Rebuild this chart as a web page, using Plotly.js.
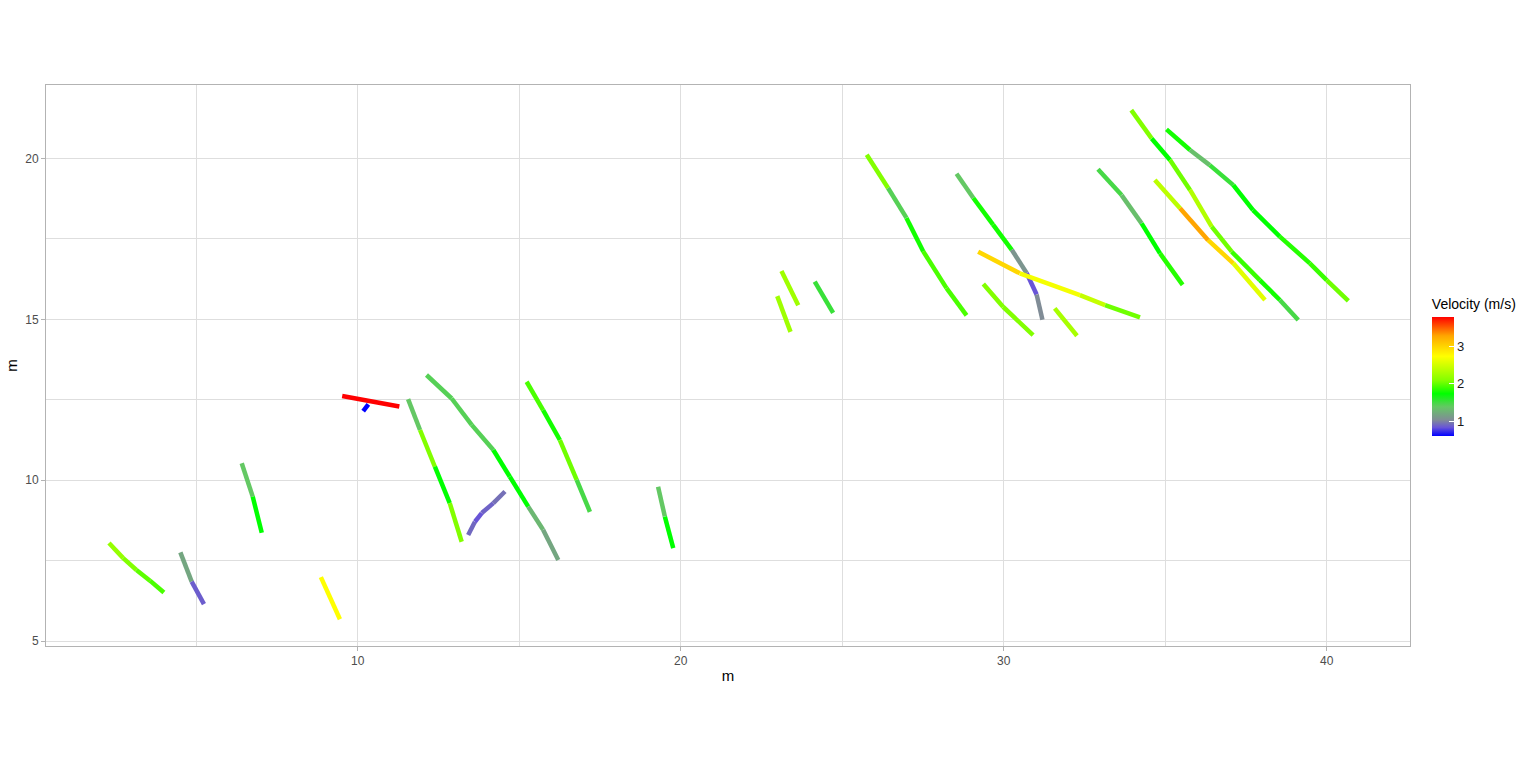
<!DOCTYPE html>
<html><head><meta charset="utf-8">
<script src="https://cdn.plot.ly/plotly-3.0.1.min.js"></script>
<style>body{margin:0;background:#fff}</style></head>
<body><div id="chart" style="width:1536px;height:768px"></div>
<script>
// Track id, position (m) and velocity (m/s) of each recorded point.
// A segment is coloured by the velocity at its starting point.
const trackId = [
 1,1,1,1,1, 2,2,2, 3,3,3, 4,4, 5,5, 6,6,
 7,7,7,7,7, 8,8,8,8,8,8,8,8, 9,9,9,9,9, 10,10,10,10,10, 11,11,11,
 12,12, 13,13, 14,14, 15,15,15,15,15,15, 16,16,16,16,16,16,16,
 17,17,17,17,17, 18,18,18, 19,19,
 20,20,20,20,20,20,20,20,20, 21,21,21,21,21,21,21,21,21, 22,22,22,22,22, 23,23,23,23,23
];
const posX = [
 2.30,2.74,3.15,3.57,4.00, 4.51,4.86,5.24, 6.41,6.75,7.03, 8.86,9.45, 9.52,11.29, 10.33,10.17,
 11.56,11.93,12.39,12.85,13.22, 12.13,12.91,13.53,14.20,14.71,15.28,15.74,16.21,
 13.42,13.63,13.84,14.20,14.56, 15.23,15.74,16.26,16.78,17.19, 19.30,19.51,19.77,
 23.12,23.64, 22.99,23.40, 24.15,24.72, 25.76,26.42,26.99,27.51,28.23,28.85,
 28.54,29.06,29.67,30.25,30.71,31.02,31.20,
 29.21,30.50,32.36,33.14,34.22, 29.37,29.98,30.91, 31.58,32.27,
 33.95,34.58,35.15,35.77,36.44,37.06,37.93,38.55,39.12,
 35.04,35.77,36.38,37.11,37.72,38.55,39.48,40.00,40.67,
 34.68,35.46,36.33,37.11,38.09, 32.92,33.65,34.27,34.84,35.54
];
const posY = [
 8.05,7.58,7.21,6.88,6.51, 7.76,6.85,6.15, 10.53,9.49,8.37, 6.99,5.68, 12.62,12.29, 12.36,12.15,
 12.52,11.56,10.42,9.29,8.09, 13.27,12.54,11.72,10.94,10.11,9.18,8.46,7.52,
 8.30,8.71,8.98,9.29,9.65, 13.06,12.18,11.25,10.01,9.02, 9.80,8.87,7.89,
 16.50,15.44, 15.72,14.61, 16.17,15.20, 20.11,19.08,18.15,17.11,15.97,15.12,
 19.52,18.77,17.94,17.16,16.44,15.77,14.99,
 17.10,16.43,15.75,15.44,15.06, 16.10,15.39,14.51, 15.34,14.49,
 21.50,20.62,19.95,19.02,17.88,17.10,16.22,15.60,14.98,
 20.90,20.26,19.79,19.17,18.39,17.57,16.74,16.22,15.57,
 19.33,18.45,17.46,16.74,15.60, 19.66,18.86,17.98,17.05,16.07
];
const velocity = [
 2.2,2.1,2.0,1.95,1.95, 1.2,0.88,0.88, 1.4,1.75,1.75, 2.75,2.75, 3.8,3.8, 0.62,0.62,
 1.4,2.1,1.75,2.1,2.1, 1.45,1.45,1.45,1.75,1.75,1.3,1.2,1.2,
 0.92,0.85,0.9,0.95,0.95, 1.95,1.8,2.05,1.5,1.5, 1.4,1.75,1.75,
 2.25,2.25, 2.25,2.25, 1.55,1.55, 2.1,1.45,1.8,1.95,1.95,1.95,
 1.4,1.8,1.8,1.1,0.85,1.05,1.05,
 3.0,2.7,2.45,2.05,2.05, 2.1,2.1,2.1, 2.3,2.3,
 2.1,1.75,2.05,2.35,2.05,1.9,1.8,1.5,1.5,
 1.8,1.35,1.55,1.75,1.75,1.85,1.9,2.05,2.05,
 2.4,3.3,3.0,2.6,2.6, 1.5,1.35,1.75,1.85,1.85
];

// Colour scale (velocity -> colour)
const stopV = [0.62, 0.85, 1.05, 1.4, 1.75, 2.1, 2.75, 3.0, 3.3, 3.8];
const stopRGB = [[0,0,255],[105,85,215],[128,140,150],[100,200,100],[0,255,0],
                 [130,255,0],[255,255,0],[255,215,0],[255,165,0],[255,0,0]];

const colorscale = stopV.map((v, k) => [(v - stopV[0]) / (stopV[stopV.length-1] - stopV[0]),
  'rgb(' + stopRGB[k].join(',') + ')']);

function colorFor(v) {
  if (v <= stopV[0]) return 'rgb(' + stopRGB[0].join(',') + ')';
  for (let k = 1; k < stopV.length; k++) {
    if (v <= stopV[k]) {
      const t = (v - stopV[k-1]) / (stopV[k] - stopV[k-1]);
      const c = stopRGB[k-1].map((a, j) => Math.round(a + t * (stopRGB[k][j] - a)));
      return 'rgb(' + c.join(',') + ')';
    }
  }
  return 'rgb(' + stopRGB[stopRGB.length-1].join(',') + ')';
}

const traces = [];
for (let i = 0; i < posX.length - 1; i++) {
  if (trackId[i] !== trackId[i+1]) continue;
  traces.push({
    type: 'scatter', mode: 'lines',
    x: [posX[i], posX[i+1]], y: [posY[i], posY[i+1]],
    line: {color: colorFor(velocity[i]), width: 4.5},
    hoverinfo: 'skip', showlegend: false
  });
}
// colour bar carrier
traces.push({
  type: 'scatter', mode: 'markers', x: posX, y: posY,
  hoverinfo: 'skip', showlegend: false,
  marker: {
    color: velocity, colorscale: colorscale, cmin: stopV[0], cmax: stopV[stopV.length-1],
    opacity: 0, size: 1, showscale: true,
    colorbar: {
      title: {text: 'Velocity (m/s)', side: 'top', font: {size: 14, color: '#000'}},
      x: 1.016, xanchor: 'left', y: 0.5, yanchor: 'middle',
      len: 140, lenmode: 'pixels', thickness: 22, thicknessmode: 'pixels',
      tickvals: [1, 2, 3], ticks: 'inside', ticklen: 5, tickcolor: '#fff', tickwidth: 1,
      outlinewidth: 0, tickfont: {size: 13, color: '#1a1a1a'}, xpad: 0, ypad: 0
    }
  }
});

const gridc = '#dedede';
const layout = {
  width: 1536, height: 768,
  margin: {l: 46, r: 126, t: 85, b: 122},
  paper_bgcolor: '#fff', plot_bgcolor: '#fff',
  font: {family: 'Liberation Sans, Arial, sans-serif'},
  xaxis: {
    range: [0.35, 42.58], tickvals: [10, 20, 30, 40], ticktext: ['10','20','30','40'],
    showgrid: true, gridcolor: gridc, gridwidth: 1,
    minor: {tickvals: [5, 15, 25, 35], showgrid: true, gridcolor: gridc, gridwidth: 1, ticks: ''},
    zeroline: false, showline: true, mirror: true, linecolor: '#b3b3b3', linewidth: 1,
    ticks: 'outside', ticklen: 4, tickcolor: '#b3b3b3',
    tickfont: {size: 12, color: '#4d4d4d'},
    title: {text: 'm', font: {size: 15, color: '#000'}, standoff: 3}
  },
  yaxis: {
    range: [4.85, 22.28], tickvals: [5, 10, 15, 20], ticktext: ['5','10','15','20'],
    showgrid: true, gridcolor: gridc, gridwidth: 1,
    minor: {tickvals: [7.5, 12.5, 17.5], showgrid: true, gridcolor: gridc, gridwidth: 1, ticks: ''},
    zeroline: false, showline: true, mirror: true, linecolor: '#b3b3b3', linewidth: 1,
    ticks: 'outside', ticklen: 4, tickcolor: '#b3b3b3',
    tickfont: {size: 12, color: '#4d4d4d'},
    title: {text: 'm', font: {size: 15, color: '#000'}, standoff: 3}
  }
};
Plotly.newPlot('chart', traces, layout, {displayModeBar: false, staticPlot: true});
</script>
</body></html>
